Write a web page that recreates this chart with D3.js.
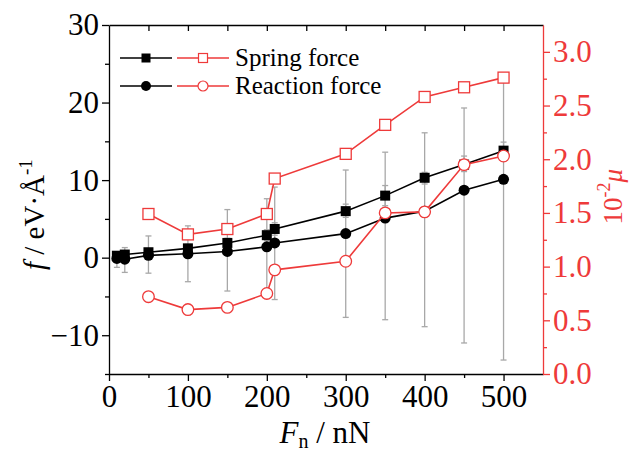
<!DOCTYPE html>
<html>
<head>
<meta charset="utf-8">
<script src="https://cdn.jsdelivr.net/npm/d3@7"></script>
<style>
  body { margin: 0; background: #fff; }
  svg text { font-family: "Liberation Serif", "DejaVu Serif", serif !important; }
</style>
</head>
<body>
<div id="chart"></div>
<script>
// normal load F_n (nN)
const loads = [10, 20, 50, 100, 150, 200, 210, 300, 350, 400, 450, 500];

// friction force f (eV/Å), left axis
const springForce = [0.25, 0.4, 0.7, 1.2, 1.9, 2.9, 3.7, 6.0, 8.0, 10.3, 12.0, 13.8];
const reactionForce = [-0.1, -0.2, 0.3, 0.5, 0.8, 1.4, 1.9, 3.1, 5.1, 6.0, 8.7, 10.1];
const springErrLow = [-0.1, 0.0, 0.3, 0.7, 1.3, 2.2, 2.9, 5.2, 6.7, 9.5, 11.1, 12.5];
const springErrHigh = [0.6, 0.8, 1.1, 1.7, 2.5, 3.6, 4.5, 6.9, 9.3, 11.0, 13.1, 14.9];
const reactionErrLow = [-1.25, -1.9, -2.0, -3.1, -4.3, -4.7, -5.4, -7.7, -8.0, -8.9, -11.0, -13.2];
const reactionErrHigh = [0.6, 1.3, 2.8, 4.1, 6.2, 7.6, 9.1, 11.3, 13.6, 16.1, 19.3, 23.2];

// friction coefficient 10^-2 mu, right axis (no value at 10 and 20 nN)
const muLoads = [50, 100, 150, 200, 210, 300, 350, 400, 450, 500];
const springMu = [1.49, 1.30, 1.35, 1.49, 1.82, 2.05, 2.32, 2.58, 2.67, 2.76];
const reactionMu = [0.72, 0.60, 0.62, 0.75, 0.97, 1.05, 1.50, 1.51, 1.95, 2.03];

const xTicks = [0, 100, 200, 300, 400, 500];
const yTicks = [-10, 0, 10, 20, 30];
const muTicks = [0, 0.5, 1.0, 1.5, 2.0, 2.5, 3.0];

const width = 631, height = 451;
const margin = { top: 25, right: 88, bottom: 77, left: 109 };
const red = '#ee3a3a';
const grey = '#a8a8a8';
const serif = '"Liberation Serif", serif';

const svg = d3.select('#chart').append('svg')
  .attr('width', width)
  .attr('height', height);

const x = d3.scaleLinear().domain([0, 550]).range([margin.left, width - margin.right]);
const y = d3.scaleLinear().domain([-15, 30]).range([height - margin.bottom, margin.top]);
const yMu = d3.scaleLinear().domain([0, 3.25]).range([height - margin.bottom, margin.top]);

// axes: major ticks with labels, minor ticks without
const fontSize = '31px';
svg.append('g')
  .attr('transform', `translate(0,${y(-15)})`)
  .call(d3.axisBottom(x).tickValues(xTicks).tickSize(7).tickSizeOuter(0).tickPadding(4));
svg.append('g')
  .attr('transform', `translate(0,${y(-15)})`)
  .call(d3.axisBottom(x).tickValues(d3.range(50, 550, 100)).tickSize(4).tickSizeOuter(0).tickFormat(''))
  .select('.domain').remove();

// top frame line with inward ticks
svg.append('g')
  .attr('transform', `translate(0,${margin.top})`)
  .call(d3.axisBottom(x).tickValues(d3.range(50, 550, 50)).tickSize(6).tickSizeOuter(0).tickFormat(''));

svg.append('g')
  .attr('transform', `translate(${margin.left},0)`)
  .call(d3.axisLeft(y).tickValues(yTicks).tickSize(7).tickSizeOuter(0).tickPadding(3)
    .tickFormat(d => d < 0 ? '\u2212' + Math.abs(d) : d));
svg.append('g')
  .attr('transform', `translate(${margin.left},0)`)
  .call(d3.axisLeft(y).tickValues([-15, -5, 5, 15, 25]).tickSize(4).tickSizeOuter(0).tickFormat(''))
  .select('.domain').remove();

const rightAxis = svg.append('g')
  .attr('transform', `translate(${width - margin.right},0)`)
  .call(d3.axisRight(yMu).tickValues(muTicks).tickSize(7).tickSizeOuter(0).tickPadding(3)
    .tickFormat(d3.format('.1f')));
const rightMinor = svg.append('g')
  .attr('transform', `translate(${width - margin.right},0)`)
  .call(d3.axisRight(yMu).tickValues(d3.range(0.25, 3.25, 0.5)).tickSize(4).tickSizeOuter(0).tickFormat(''));
rightMinor.select('.domain').remove();

svg.selectAll('.tick text')
  .attr('font-size', fontSize)
  .style('font-family', serif);
svg.selectAll('.domain, .tick line').attr('stroke-width', 1.3);
rightAxis.selectAll('.domain, .tick line').attr('stroke', red);
rightMinor.selectAll('line').attr('stroke', red);
rightAxis.selectAll('.tick text').attr('fill', red);

// axis titles
svg.append('text')
  .attr('x', 325)
  .attr('y', 443)
  .attr('text-anchor', 'middle')
  .attr('font-size', '31px')
  .style('font-family', serif)
  .call(t => {
    t.append('tspan').attr('font-style', 'italic').text('F');
    t.append('tspan').attr('font-size', '20px').attr('dy', 5).text('n');
    t.append('tspan').attr('dy', -5).text(' / nN');
  });

svg.append('text')
  .attr('transform', 'translate(44,270) rotate(-90)')
  .attr('text-anchor', 'start')
  .attr('font-size', '29px')
  .style('font-family', serif)
  .call(t => {
    t.append('tspan').attr('font-style', 'italic').text('f');
    t.append('tspan').text(' / eV\u00b7\u00c5');
    t.append('tspan').attr('font-size', '19px').attr('dy', -12).text('-1');
  });

svg.append('text')
  .attr('transform', `translate(622,${yMu(1.65)}) rotate(-90)`)
  .attr('text-anchor', 'middle')
  .attr('font-size', '27px')
  .attr('fill', red)
  .style('font-family', serif)
  .call(t => {
    t.append('tspan').text('10');
    t.append('tspan').attr('font-size', '18px').attr('dy', -12).text('-2');
    t.append('tspan').attr('dy', 12).attr('font-style', 'italic').text('\u03bc');
  });

// error bars
function errorBars(lo, hi, cap) {
  const g = svg.append('g').attr('stroke', grey).attr('stroke-width', 1.3);
  loads.forEach((d, i) => {
    g.append('line').attr('x1', x(d)).attr('x2', x(d)).attr('y1', y(lo[i])).attr('y2', y(hi[i]));
    [lo[i], hi[i]].forEach(v => {
      g.append('line').attr('x1', x(d) - cap).attr('x2', x(d) + cap).attr('y1', y(v)).attr('y2', y(v));
    });
  });
}
errorBars(reactionErrLow, reactionErrHigh, 3);
errorBars(springErrLow, springErrHigh, 3);

// series lines and markers
const lineF = d3.line().x((d, i) => x(loads[i])).y(d => y(d));
const lineMu = d3.line().x((d, i) => x(muLoads[i])).y(d => yMu(d));

function drawSeries(values, xs, yScale, line, color, shape, filled) {
  svg.append('path').datum(values)
    .attr('d', line)
    .attr('fill', 'none')
    .attr('stroke', color)
    .attr('stroke-width', 1.6);
  const g = svg.append('g');
  values.forEach((v, i) => {
    const cx = x(xs[i]), cy = yScale(v);
    if (shape === 'square') {
      const s = filled ? 10 : 11;
      g.append('rect').attr('x', cx - s / 2).attr('y', cy - s / 2).attr('width', s).attr('height', s)
        .attr('fill', filled ? color : '#fff').attr('stroke', color).attr('stroke-width', filled ? 0 : 1.3);
    } else {
      g.append('circle').attr('cx', cx).attr('cy', cy).attr('r', filled ? 5.5 : 5.8)
        .attr('fill', filled ? color : '#fff').attr('stroke', color).attr('stroke-width', filled ? 0 : 1.3);
    }
  });
}

drawSeries(reactionForce, loads, y, lineF, '#000', 'circle', true);
drawSeries(springForce, loads, y, lineF, '#000', 'square', true);
drawSeries(springMu, muLoads, yMu, lineMu, red, 'square', false);
drawSeries(reactionMu, muLoads, yMu, lineMu, red, 'circle', false);

// legend
const legendRows = [
  { label: 'Spring force', shape: 'square', y: 58 },
  { label: 'Reaction force', shape: 'circle', y: 86 }
];
const legend = svg.append('g');
legendRows.forEach(r => {
  [{ x0: 120, x1: 172, color: '#000', filled: true }, { x0: 177, x1: 229, color: red, filled: false }].forEach(s => {
    legend.append('line').attr('x1', s.x0).attr('x2', s.x1).attr('y1', r.y).attr('y2', r.y)
      .attr('stroke', s.color).attr('stroke-width', 1.6);
    const cx = (s.x0 + s.x1) / 2;
    if (r.shape === 'square') {
      legend.append('rect').attr('x', cx - 4.5).attr('y', r.y - 4.5).attr('width', 9).attr('height', 9)
        .attr('fill', s.filled ? s.color : '#fff').attr('stroke', s.color).attr('stroke-width', s.filled ? 0 : 1.2);
    } else {
      legend.append('circle').attr('cx', cx).attr('cy', r.y).attr('r', 5)
        .attr('fill', s.filled ? s.color : '#fff').attr('stroke', s.color).attr('stroke-width', s.filled ? 0 : 1.2);
    }
  });
  legend.append('text').attr('x', 235).attr('y', r.y + 8).attr('font-size', '25px')
    .style('font-family', serif).text(r.label);
});
</script>
</body>
</html>
